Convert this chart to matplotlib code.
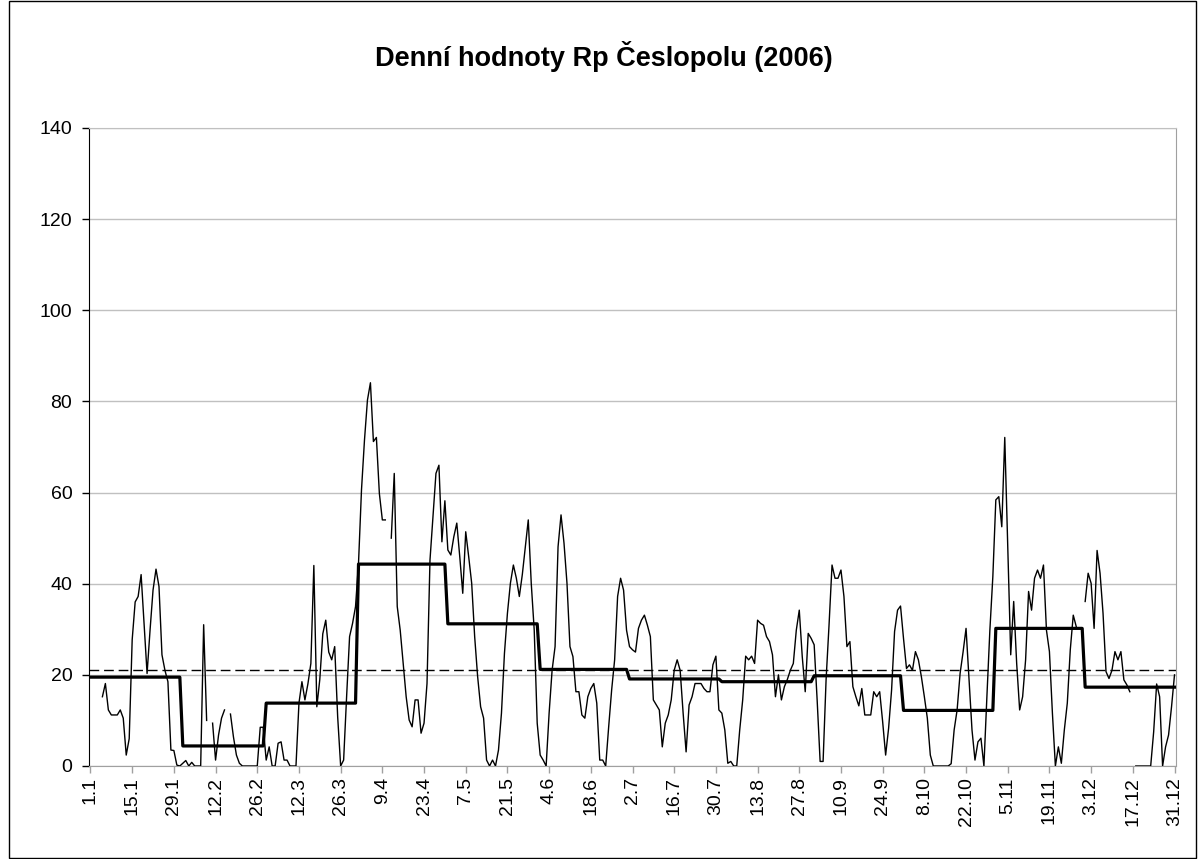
import numpy as np
import matplotlib.pyplot as plt
from matplotlib.patches import Rectangle

plt.rcParams['font.family'] = ['Liberation Sans', 'DejaVu Sans']

nan = np.nan

# denni hodnoty Rp (mm), po mesicich, nan = chybi
jan = [nan, nan, nan, nan, 15.2, 18.1, 12.3, 11.2, 11.2, 11.2, 12.3, 10.5, 2.4, 6, 27.7, 36,
       37.2, 42, 31, 20.3, 29.8, 38.6, 43.2, 39.4, 24.4, 21, 18.5, 3.5, 3.4, 0.2, 0]
feb = [0.6, 1.2, 0, 0.8, 0, 0, 0, 31, 10, nan, 9.4, 1.3, 6.8, 10.5, 12.3, nan, 11.4, 6.4,
       2.4, 0.6, 0, 0, 0, 0, 0, 0, 8.5, 8.5]
mar = [1.3, 4.2, 0, 0, 5, 5.3, 1.3, 1.3, 0, 0, 0, 13.8, 18.5, 14.5, 18, 22.5, 44, 13, 19,
       29, 32, 25, 23.3, 26.2, 10.8, 0, 1.3, 15.2, 28.4, 31.3, 35]
apr = [44.5, 60.6, 71.5, 80.3, 84.1, 71.2, 72.1, 59.8, 54, 54, nan, 50, 64.2, 35, 29.8,
       22.5, 15.2, 10.1, 8.6, 14.5, 14.5, 7.2, 9.4, 18.1, 45.2, 54.7, 64.2, 66, 49.2, 58.2]
may = [47.4, 46.3, 50.3, 53.3, 45.9, 37.9, 51.4, 45.9, 40.1, 28.4, 19.6, 13, 10.5, 1.3, 0,
       1.3, 0, 3.5, 11.6, 24.7, 33.5, 40.1, 44.1, 41.2, 37.2, 42, 48, 54, 40.1, 29.8, 9.4]
jun = [2.4, 1.3, 0, 11.6, 21, 26.2, 48.1, 55.1, 48.9, 40.1, 26.2, 24, 16.3, 16.3, 11.2,
       10.5, 15.2, 17, 18.1, 13.8, 1.3, 1.3, 0, 8.6, 16.7, 23.3, 37.2, 41.2, 38.6, 29.8]
jul = [26.2, 25.5, 25, 30.2, 32, 33.1, 30.9, 28.4, 14.5, 13.4, 12.3, 4.2, 9.4, 11.2, 14.5,
       21, 23.3, 21, 11.6, 3.1, 13.4, 15.2, 18.1, 18.1, 18.1, 17, 16.3, 16.3, 22.2, 24.1, 12.3]
aug = [11.6, 7.9, 0.6, 1, 0, 0, 7.9, 14.5, 24.1, 23.3, 24.1, 22.5, 32, 31.3, 30.9, 28.4,
       27.3, 24.4, 15.2, 20, 14.5, 17.4, 19, 21, 22.5, 29.8, 34.2, 24, 16.3, 29.1, 28]
sep = [26.6, 14.5, 1, 1, 18.9, 31, 44.1, 41.2, 41.2, 43, 37.2, 26.2, 27.3, 17.4, 15.2,
       13.2, 17, 11.2, 11.2, 11.2, 16.3, 15.2, 16.3, 9.7, 2.4, 8.3, 16.7, 29.5, 34.2, 35.1]
oct_ = [28, 21.4, 22.2, 21, 25.1, 23.3, 19.6, 15.2, 10.5, 2.4, 0, 0, 0, 0, 0, 0, 0.5, 7.9,
        12.3, 20.3, 25, 30.2, 19, 7.9, 1.3, 5.3, 6.1, 0, 15.2, 29.8, 41.6]
nov = [58.4, 59.1, 52.5, 72.1, 48, 24.4, 36.1, 22.5, 12.3, 15.2, 23.3, 38.3, 34.2, 41.2,
       43, 41.2, 44.1, 29.8, 25.1, 11.6, 0, 4.2, 0.6, 7.9, 13.8, 25.5, 33.1, 30.6, nan, nan]
dec = [36.1, 42.3, 40.1, 30.2, 47.3, 42.3, 33.5, 20.7, 19.2, 21, 25.1, 23.3, 25.1, 18.9,
       17.8, 16.3, nan, 0, 0, 0, 0, 0, 0, 7.5, 18, 15.2, 0, 4.2, 6.8, 13, 20]

daily = np.array(jan + feb + mar + apr + may + jun + jul + aug + sep + oct_ + nov + dec)

month_len = [31, 28, 31, 30, 31, 30, 31, 31, 30, 31, 30, 31]
monthly_mean = [19.5, 4.4, 13.8, 44.3, 31.2, 21.2, 19.1, 18.5, 19.8, 12.2, 30.2, 17.3]
annual_mean = 21.1

tick_labels = ["1.1", "15.1", "29.1", "12.2", "26.2", "12.3", "26.3", "9.4", "23.4", "7.5",
               "21.5", "4.6", "18.6", "2.7", "16.7", "30.7", "13.8", "27.8", "10.9", "24.9",
               "8.10", "22.10", "5.11", "19.11", "3.12", "17.12", "31.12"]

W, H = 1203, 859
fig = plt.figure(figsize=(W / 100, H / 100), dpi=100)
ax = fig.add_axes([89 / W, 1 - 766 / H, (1176 - 89) / W, (766 - 128) / H])

days = np.arange(len(daily))
ax.plot(days, daily, color="black", lw=1.0, zorder=3)
ax.plot(days, np.repeat(monthly_mean, month_len), color="black", lw=2.3, zorder=4)
ax.axhline(annual_mean, color="black", lw=1.0, dashes=(7, 3.5), zorder=2)

ax.set_xlim(-0.5, len(daily) - 0.5)
ax.set_ylim(0, 140)
ax.set_yticks(np.arange(0, 141, 20))
ax.set_xticks(np.arange(0, len(daily), 14))
ax.set_xticklabels(tick_labels, rotation=90)
ax.yaxis.grid(True, color="#c0c0c0", lw=1.0)
ax.set_axisbelow(True)

ax.tick_params(axis="y", direction="out", length=5, width=1, color="black",
               labelsize=14, pad=7)
ax.tick_params(axis="x", direction="out", length=5, width=1, color="#a0a0a0",
               labelsize=14, pad=3)
ax.spines["left"].set_color("black")
ax.spines["bottom"].set_color("#a0a0a0")
ax.spines["right"].set_color("#a0a0a0")
ax.spines["top"].set_color("#c0c0c0")

fig.text(604 / W, 1 - 57 / H, "Denní hodnoty Rp Česlopolu (2006)", ha="center",
         va="center", fontsize=19.5, fontweight="bold")

fig.patches.append(Rectangle((9 / W, 1 / H), (1196 - 9) / W, (858 - 1) / H,
                             transform=fig.transFigure, fill=False,
                             edgecolor="black", lw=1.0))

fig.savefig("out.png", dpi=100)
